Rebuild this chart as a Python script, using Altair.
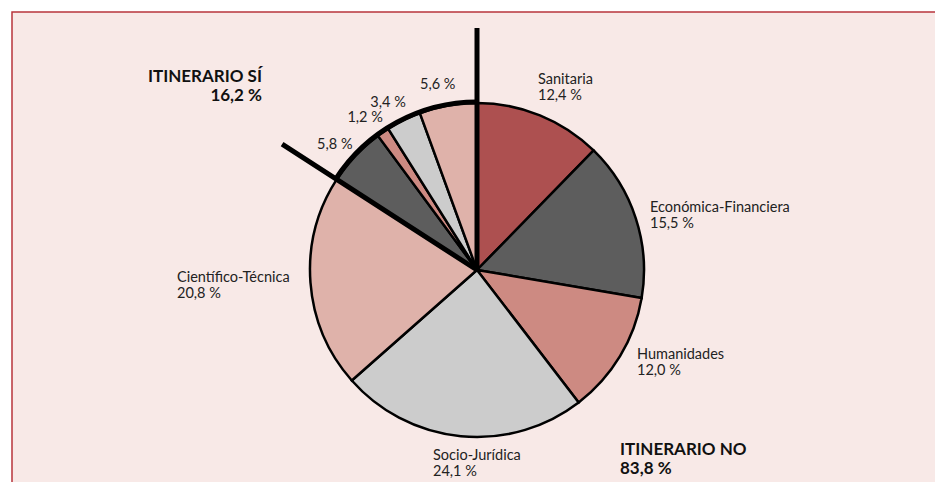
import altair as alt
import pandas as pd
import numpy as np

# ---- data ----
areas = ["Sanitaria", "Económica-Financiera", "Humanidades", "Socio-Jurídica", "Científico-Técnica"]
area_colors = ["#ad5050", "#5d5d5d", "#cd8a82", "#cccccc", "#dfb2aa"]

no_areas = ["Sanitaria", "Económica-Financiera", "Humanidades", "Socio-Jurídica", "Científico-Técnica"]
no_values = [12.4, 15.5, 12.0, 24.1, 20.8]
si_areas = ["Económica-Financiera", "Humanidades", "Socio-Jurídica", "Científico-Técnica"]
si_values = [5.8, 1.2, 3.4, 5.6]

groups = ["ITINERARIO NO", "ITINERARIO SÍ"]
group_totals = ["83,8 %", "16,2 %"]

# ---- slices table (cumulative angles in radians, clockwise from 12 o'clock) ----
rows = []
for a, v in zip(no_areas, no_values):
    rows.append({"group": "NO", "area": a, "value": v})
for a, v in zip(si_areas, si_values):
    rows.append({"group": "SI", "area": a, "value": v})
df = pd.DataFrame(rows)
total = df["value"].sum()
df["end"] = df["value"].cumsum() / total * 2 * np.pi
df["start"] = df["end"] - df["value"] / total * 2 * np.pi
df["mid"] = (df["start"] + df["end"]) / 2
df["label"] = df["value"].map(lambda v: f"{v:.1f}".replace(".", ",") + " %")

si_start = df.loc[df["group"] == "SI", "start"].min()
markers = pd.DataFrame({"t": [0.0, si_start], "len": [242, 232]})
si_arc = pd.DataFrame({"t0": [si_start], "t1": [2 * np.pi]})

# ---- layout (pixel positions of annotations) ----
CX, CY, R = 469, 262, 167
W, H = 927, 474
LH = 16

no_df = df[df["group"] == "NO"].copy()
no_df["lx"] = [530, 642, 629, 425, 169]
no_df["ly"] = [76, 204, 351, 452, 274]
line1 = no_df[["area", "lx", "ly"]].rename(columns={"area": "text"})
line2 = no_df[["label", "lx", "ly"]].rename(columns={"label": "text"})
line2["ly"] = line2["ly"] + LH
no_lines = pd.concat([line1, line2], ignore_index=True)

si_df = df[df["group"] == "SI"].copy()
si_df["tm"] = si_df["mid"] - 0.035

grp_left = pd.DataFrame({"text": [groups[0], group_totals[0]], "lx": [612, 612], "ly": [447, 466]})
grp_right = pd.DataFrame({"text": [groups[1], group_totals[1]], "lx": [254, 254], "ly": [74, 93]})

FONT = "Lato"

bg = alt.Chart(pd.DataFrame({"a": [0]})).mark_rect(
    fill="#f8e9e7", stroke="#b8353d", strokeWidth=1.5
).encode(x=alt.value(4), y=alt.value(4), x2=alt.value(W + 50), y2=alt.value(H + 50))

slices = alt.Chart(df).mark_arc(
    outerRadius=R, innerRadius=0, stroke="black", strokeWidth=2.5, x=CX, y=CY
).encode(
    theta=alt.Theta("start:Q", scale=None),
    theta2=alt.Theta2("end:Q"),
    color=alt.Color("area:N", scale=alt.Scale(domain=areas, range=area_colors), legend=None),
)

thick_arc = alt.Chart(si_arc).mark_arc(
    outerRadius=R + 1, innerRadius=R + 1, stroke="black", strokeWidth=5, fill=None,
    filled=False, x=CX, y=CY
).encode(theta=alt.Theta("t0:Q", scale=None), theta2=alt.Theta2("t1:Q"))

marker_lines = alt.Chart(markers).mark_arc(
    innerRadius=0, stroke="black", strokeWidth=5, fill=None, filled=False, x=CX, y=CY
).encode(
    theta=alt.Theta("t:Q", scale=None),
    theta2=alt.Theta2("t:Q"),
    radius=alt.Radius("len:Q", scale=None),
)

no_labels = alt.Chart(no_lines).mark_text(
    align="left", baseline="alphabetic", font=FONT, fontSize=14.5, color="#222222"
).encode(x=alt.X("lx:Q", scale=None), y=alt.Y("ly:Q", scale=None), text="text:N")

si_labels = alt.Chart(si_df).mark_text(
    align="center", baseline="middle", font=FONT, fontSize=14.5, color="#222222", x=CX, y=CY
).encode(
    theta=alt.Theta("tm:Q", scale=None),
    radius=alt.value(189),
    text="label:N",
)

grp_l = alt.Chart(grp_left).mark_text(
    align="left", baseline="alphabetic", font=FONT, fontSize=17, fontWeight="bold",
    color="#111111"
).encode(x=alt.X("lx:Q", scale=None), y=alt.Y("ly:Q", scale=None), text="text:N")

grp_r = alt.Chart(grp_right).mark_text(
    align="right", baseline="alphabetic", font=FONT, fontSize=17, fontWeight="bold",
    color="#111111"
).encode(x=alt.X("lx:Q", scale=None), y=alt.Y("ly:Q", scale=None), text="text:N")

chart = alt.layer(
    bg, slices, thick_arc, marker_lines, no_labels, si_labels, grp_l, grp_r
).properties(
    width=W, height=H, autosize=alt.AutoSizeParams(type="none"), padding=0,
    background="white"
).configure_view(stroke=None)

chart.save("out.html", embed_options={"renderer": "svg", "actions": False})
